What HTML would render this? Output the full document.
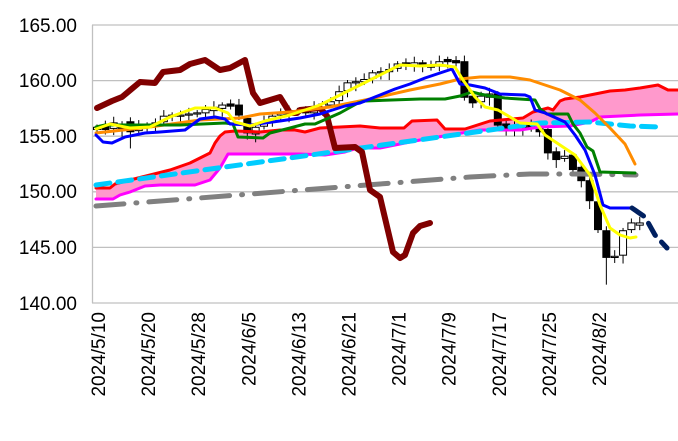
<!DOCTYPE html><html><head><meta charset="utf-8"><style>body{margin:0;background:#fff}svg{display:block}text{font-family:"Liberation Sans",sans-serif}</style></head><body>
<svg id="s" width="678" height="441" viewBox="0 0 678 441" xmlns="http://www.w3.org/2000/svg">
<g stroke="#c0c0c0" stroke-width="1.3">
<line x1="92" y1="25" x2="678" y2="25"/><line x1="92" y1="80.6" x2="678" y2="80.6"/><line x1="92" y1="136.2" x2="678" y2="136.2"/><line x1="92" y1="191.8" x2="678" y2="191.8"/><line x1="92" y1="247.4" x2="678" y2="247.4"/><line x1="92" y1="303" x2="678" y2="303"/><line x1="92.5" y1="25" x2="92.5" y2="303"/>
</g>
<g font-size="19" fill="#000" text-anchor="end">
<text x="77" y="32">165.00</text><text x="77" y="87">160.00</text><text x="77" y="143">155.00</text><text x="77" y="198">150.00</text><text x="77" y="254">145.00</text><text x="77" y="310">140.00</text>
</g>
<g id="xl" font-size="19" fill="#000" text-anchor="end"></g>
<polygon fill="#ff99cc" points="96,188 110,188 115,184 130,180 150,175 170,170 190,163 200,158 210,153 215,143 220,136 225,132 235,131 260,132 280,130 295,130 305,132 320,128 340,127 360,126 380,128 404,128 412,121 437,120 445,129 465,129 490,121 523,118 533,112 548,108 553,110 560,101 565,99 580,97 595,94 610,91 625,90 640,88 658,85 668,90 678,90 678,114 670,114 640,115 600,117 590,122 570,126 540,127 520,130 480,130 450,135 420,140 395,145 380,148 358,148 345,152 325,155 300,154 250,154 228,154 220,168 210,180 195,185 160,185 145,186 130,192 120,195 113,199 96,199"/>
<g id="c"></g>
<g fill="none" stroke-linejoin="round" stroke-linecap="round">
<polyline stroke="#808080" stroke-width="5" stroke-dasharray="28,12,1,12" points="96,206 380,184 470,177 530,174 580,174 636,175"/>
<polyline stroke="#ff0000" stroke-width="3" points="96,188 110,188 115,184 130,180 150,175 170,170 190,163 200,158 210,153 215,143 220,136 225,132 235,131 260,132 280,130 295,130 305,132 320,128 340,127 360,126 380,128 404,128 412,121 437,120 445,129 465,129 490,121 523,118 533,112 548,108 553,110 560,101 565,99 580,97 595,94 610,91 625,90 640,88 658,85 668,90 678,90"/>
<polyline stroke="#ff00ff" stroke-width="3" points="96,199 113,199 120,195 130,192 145,186 160,185 195,185 210,180 220,168 228,154 250,154 300,154 325,155 345,152 358,148 380,148 395,145 420,140 450,135 480,130 520,130 540,127 570,126 590,122 600,117 640,115 678,114"/>
<polyline stroke="#00ccff" stroke-width="5" stroke-dasharray="14,8" points="96,185 540,123 590,122 630,126 660,127"/>
<polyline stroke="#800000" stroke-width="6" points="97,108 112,101 122,97 140,82 155,83 163,72 180,70 190,64 205,60 220,70 230,68 245,60 253,93 260,103 280,97 290,113 297,113 300,110 320,108 327,116 335,148 355,147 362,152 370,190 380,197 393,252 400,258 405,255 413,233 420,226 430,223"/>
<polyline stroke="#ff8c00" stroke-width="3" points="96,133 150,127 200,120 240,118 260,114 290,112 330,107 370,99 410,90 440,84 460,79 480,77 510,77 530,80 560,90 580,100 595,113 610,128 625,144 635,164"/>
<polyline stroke="#008000" stroke-width="3" points="96,127 105,125 180,125 225,123 233,124 238,137 263,138 270,133 290,128 305,124 315,124 340,113 358,103 365,101 420,99 445,99 460,96 472,92 480,94 490,96 505,98 535,100 540,109 547,114 568,114 573,124 580,133 587,147 593,151 600,172 635,173"/>
<polyline stroke="#0000ff" stroke-width="3" points="96,135 103,142 112,143 125,137 145,133 160,132 185,130 200,119 215,117 225,119 230,124 250,125 280,121 300,118 320,114 345,106 360,103 375,97 395,89 410,84 425,78 440,73 452,69 460,84 470,85 485,88 500,94 525,95 530,97 535,110 545,113 565,122 575,135 585,150 595,175 603,205 610,208 632,208"/>
<polyline stroke="#ffff00" stroke-width="3" points="96,129 110,124 130,128 150,127 170,117 195,108 215,108 228,113 235,122 250,126 265,121 290,115 320,105 340,95 360,85 380,75 400,65 420,66 440,65 455,67 463,80 475,97 485,107 498,110 510,117 520,123 537,124 545,135 560,145 575,155 590,175 600,205 610,228 620,235 630,238 636,237"/>
<polyline stroke="#002060" stroke-width="5" stroke-dasharray="14,9" points="632,208 645,217 655,235 667,248"/>
</g>
</svg>
<script>
const Y=p=>25+(165-p)*11.12,X=i=>97+i*8.35;
const cl=[155.8,155.6,156.2,155.7,155.4,155.9,156.0,156.2,156.8,156.9,156.9,157.0,157.1,157.4,157.6,157.8,157.7,156.9,155.3,155.8,156.3,156.8,157.1,157.2,157.3,157.1,157.6,157.9,158.1,159.0,159.8,159.9,160.1,160.7,160.8,161.0,161.5,161.4,161.6,161.5,161.2,161.7,161.7,161.6,158.5,158.0,158.6,158.8,156.0,155.5,155.9,156.0,155.7,155.4,153.5,152.9,153.2,152.0,151.0,149.2,146.6,144.1,144.2,146.5,147.2,147.2];
let op=[155.6,156.0,155.7,156.1,156.3,155.5,155.8,156.1,156.3,156.8,156.8,156.9,157.0,157.1,157.3,157.5,157.9,157.8,156.6,155.2,155.9,156.3,156.9,157.0,157.2,157.3,157.1,157.6,157.8,158.2,159.1,159.8,159.9,160.2,160.7,160.8,161.1,161.6,161.4,161.6,161.4,161.3,161.9,161.8,161.7,158.6,158.1,158.5,158.8,156.1,155.6,155.8,156.1,155.8,155.6,153.6,153.0,153.3,152.2,151.0,149.1,146.5,144.2,144.3,146.6,147.0];
let s='';
cl.forEach((c,i)=>{const o=op[i],x=X(i),t=Math.max(o,c),b=Math.min(o,c);const h=t+0.25+(i%3)*0.15,l=b-0.3-(i%4)*0.15-(i==61?2:0)-(i==4?1.2:0);
s+=`<line x1="${x}" y1="${Y(h)}" x2="${x}" y2="${Y(l)}" stroke="#000" stroke-width="1"/>`;
const ht=Math.max(Y(b)-Y(t),1.2);s+=`<rect x="${x-3.5}" y="${Y(t)}" width="7" height="${ht}" fill="${c<o?'#000':'#fff'}" stroke="#000" stroke-width="1"/>`;});
document.getElementById('c').innerHTML=s;
const lb=['2024/5/10','2024/5/20','2024/5/28','2024/6/5','2024/6/13','2024/6/21','2024/7/1','2024/7/9','2024/7/17','2024/7/25','2024/8/2'];
let t='';lb.forEach((L,k)=>{const x=98+k*50.1+7;t+=`<text transform="translate(${x},312) rotate(-90)">${L}</text>`});
document.getElementById('xl').innerHTML=t;
</script>
</body></html>
